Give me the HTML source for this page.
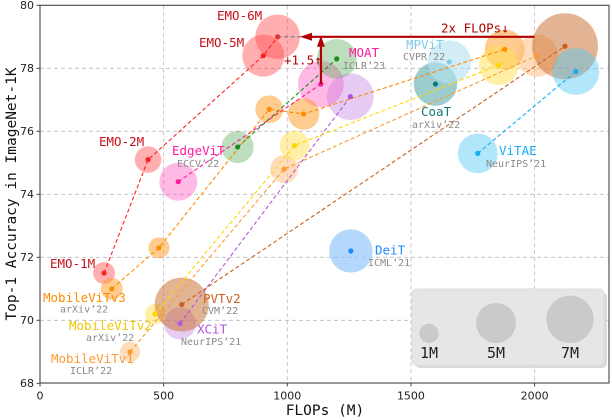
<!DOCTYPE html>
<html><head><meta charset="utf-8"><style>
html,body{margin:0;padding:0;background:#fff;}
svg{display:block;}
text{font-family:"DejaVu Sans Mono","Liberation Mono",monospace;}
</style></head><body>
<svg id="chart" width="612" height="420" viewBox="0 0 612 420">
<g id="grid"></g>
<g id="bubbles"></g>
<g id="lines"></g>
<g id="points"></g>
<g id="labels"></g>
<g id="axes"></g>
</svg>
<script>
const xTicks=[0,500,1000,1500,2000];
const yTicks=[68,70,72,74,76,78,80];
const seriesNames=["EMO","EdgeViT","Green","XCiT","MobileViTv3","MobileViTv1","MobileViTv2","PVTv2","CoaT","MPViT","ViTAE","DeiT"];
const emoFlops=[259,437,903,961];       const emoAcc=[71.5,75.1,78.4,79.0];  const emoParams=[1.3,1.9,4.8,5.4];
const edgeFlops=[559,1136];             const edgeAcc=[74.4,77.5];           const edgeParams=[3.9,5.7];
const greenFlops=[799,1200];            const greenAcc=[75.5,78.3];          const greenParams=[2.8,4.3];
const xcitFlops=[566,1255];             const xcitAcc=[69.9,77.1];           const xcitParams=[2.8,5.9];
const v3Flops=[290,481,927,1066,1879];  const v3Acc=[71.0,72.3,76.7,76.55,78.6]; const v3Params=[1.3,1.2,2.1,2.7,4.3];
const v1Flops=[364,987,2010];           const v1Acc=[69.0,74.8,78.4];        const v1Params=[1.1,2.1,4.8];
const v2Flops=[465,1030,1855];          const v2Acc=[70.2,75.55,78.1];       const v2Params=[1.1,2.4,4.3];
const pvtFlops=[573,2123];              const pvtAcc=[70.5,78.7];            const pvtParams=[7.9,11.8];
const coatFlops=[1599];                 const coatAcc=[77.5];                const coatParams=[5.1];
const mpvitFlops=[1655];                const mpvitAcc=[78.2];               const mpvitParams=[5.1];
const vitaeFlops=[1770,2167];           const vitaeAcc=[75.3,77.9];          const vitaeParams=[4.3,5.9];
const deitFlops=[1257];                 const deitAcc=[72.2];                const deitParams=[5.1];
const legendParams=[1,5,7];
const legendLabels=["1M","5M","7M"];

const NS="http://www.w3.org/2000/svg";
const X0=40,X1=609,Y0=5.3,Y1=383;
function sx(v){return X0+v*0.2473;}
function sy(v){return Y0+(80-v)*31.5;}
function rad(p){return 9.6*Math.sqrt(p);}
function mk(tag,attrs,parent){const e=document.createElementNS(NS,tag);for(const k in attrs)e.setAttribute(k,attrs[k]);parent.appendChild(e);return e;}
const G=id=>document.getElementById(id);

// grid
xTicks.slice(1).forEach(t=>{const l=mk('line',{x1:sx(t),x2:sx(t),y1:Y0,y2:Y1,stroke:'#bbb','stroke-dasharray':'4,3','stroke-width':0.8},G('grid'));

});
yTicks.slice(1,-1).forEach(t=>{const l=mk('line',{x1:X0,x2:X1,y1:sy(t),y2:sy(t),stroke:'#bbb','stroke-dasharray':'4,3','stroke-width':0.8},G('grid'));

});

const series=[
 {n:"emo",f:emoFlops,a:emoAcc,p:emoParams,line:"#ff2020",fill:"#ff4d4d",op:0.45},
 {n:"edgevit",f:edgeFlops,a:edgeAcc,p:edgeParams,line:"#ff1aa0",fill:"#ff4fbf",op:0.4},
 {n:"moat",f:greenFlops,a:greenAcc,p:greenParams,line:"#1f8a1f",fill:"#5aad5a",op:0.4},
 {n:"xcit",f:xcitFlops,a:xcitAcc,p:xcitParams,line:"#b355e0",fill:"#c27ee2",op:0.4},
 {n:"mobilevitv3",f:v3Flops,a:v3Acc,p:v3Params,line:"#ff8c00",fill:"#ff9a20",op:0.5},
 {n:"mobilevitv1",f:v1Flops,a:v1Acc,p:v1Params,line:"#ff9a30",fill:"#ffbb77",op:0.5},
 {n:"mobilevitv2",f:v2Flops,a:v2Acc,p:v2Params,line:"#ffd700",fill:"#ffe050",op:0.5},
 {n:"pvtv2",f:pvtFlops,a:pvtAcc,p:pvtParams,line:"#c8601e",fill:"#c86a2a",op:0.5},
 {n:"coat",f:coatFlops,a:coatAcc,p:coatParams,line:"#117a7a",fill:"#3a9a9a",op:0.5},
 {n:"mpvit",f:mpvitFlops,a:mpvitAcc,p:mpvitParams,line:"#7fcbe8",fill:"#b5e1f0",op:0.6},
 {n:"vitae",f:vitaeFlops,a:vitaeAcc,p:vitaeParams,line:"#12b0f0",fill:"#55c8f5",op:0.45},
 {n:"deit",f:deitFlops,a:deitAcc,p:deitParams,line:"#1e88ff",fill:"#8cc2fa",op:0.65}
];
series.forEach(s=>{
 s.f.forEach((f,i)=>{
  const c=mk('circle',{cx:sx(f),cy:sy(s.a[i]),r:rad(s.p[i]),fill:s.fill,'fill-opacity':s.op},G('bubbles'));
  
  
 });
});
series.forEach(s=>{
 if(s.f.length>1){
  const pl=mk('polyline',{points:s.f.map((f,i)=>sx(f)+','+sy(s.a[i])).join(' '),fill:'none',stroke:s.line,'stroke-width':1.1,'stroke-dasharray':'4,2.5'},G('lines'));
  
  
 }
 s.f.forEach((f,i)=>{
  const c=mk('circle',{cx:sx(f),cy:sy(s.a[i]),r:2.6,fill:s.line},G('points'));
  
  
 });
});

// annotation arrows
const L=G('labels');
const ay=sy(emoAcc[3]);
const gd=mk('line',{x1:sx(emoFlops[3]),x2:303,y1:ay,y2:ay,stroke:'#777','stroke-dasharray':'4,2.5','stroke-width':1.2},L);


const ha=mk('line',{x1:sx(2000),x2:310,y1:ay,y2:ay,stroke:'#b30000','stroke-width':2.2},L);


const hh=mk('polygon',{points:`300,${ay} 312,${ay-4} 312,${ay+4}`,fill:'#b30000'},L);


const vx=sx(edgeFlops[1]);
const va=mk('line',{x1:vx,x2:vx,y1:sy(edgeAcc[1]),y2:ay+8,stroke:'#b30000','stroke-width':2.2},L);


const vh=mk('polygon',{points:`${vx},${ay-1} ${vx-4},${ay+10} ${vx+4},${ay+10}`,fill:'#b30000'},L);



function txt(x,y,s,col,size,name,anchor){const t=mk('text',{x:x,y:y,fill:col,'font-size':size,'dominant-baseline':'central','text-anchor':anchor||'start'},L);t.textContent=s;return t;}
txt(284,60,"+1.5↑","#b30000",12.5,"accuracy-gain-label");
txt(441,28,"2x FLOPs↓","#b30000",12.5,"flops-reduction-label");
const R="#c8101a",GR="#8a8a8a";
txt(217,15.7,"EMO-6M",R,12.5,"emo-6m-label");
txt(199,42.7,"EMO-5M",R,12.5,"emo-5m-label");
txt(99,141.7,"EMO-2M",R,12.5,"emo-2m-label");
txt(50,263.3,"EMO-1M",R,12.5,"emo-1m-label");
txt(172,150.7,"EdgeViT","#ff1aa0",12.5,"edgevit-label");
txt(177,164.3,"ECCV’22",GR,10,"edgevit-venue");
txt(349,52.3,"MOAT","#ff1aa0",12.5,"moat-label");
txt(343,66.3,"ICLR’23",GR,10,"moat-venue");
txt(406,44.3,"MPViT","#7fcbe8",12.5,"mpvit-label");
txt(403,57.3,"CVPR’22",GR,10,"mpvit-venue");
txt(421,111.7,"CoaT","#117a7a",12.5,"coat-label");
txt(412,125.3,"arXiv’22",GR,10,"coat-venue");
txt(499,150.7,"ViTAE","#12b0f0",12.5,"vitae-label");
txt(486,164.3,"NeurIPS’21",GR,10,"vitae-venue");
txt(375,250,"DeiT","#1e88ff",12.5,"deit-label");
txt(368,263.3,"ICML’21",GR,10,"deit-venue");
txt(43,297.3,"MobileViTv3","#ff8c00",12.5,"mobilevitv3-label");
txt(60,310,"arXiv’22",GR,10,"mobilevitv3-venue");
txt(69,325.3,"MobileViTv2","#f0c800",12.5,"mobilevitv2-label");
txt(86,338.3,"arXiv’22",GR,10,"mobilevitv2-venue");
txt(51,358.3,"MobileViTv1","#ff9a30",12.5,"mobilevitv1-label");
txt(70,371.7,"ICLR’22",GR,10,"mobilevitv1-venue");
txt(203,298.7,"PVTv2","#c8601e",12.5,"pvtv2-label");
txt(202,311.7,"CVM’22",GR,10,"pvtv2-venue");
txt(197,329,"XCiT","#b355e0",12.5,"xcit-label");
txt(181,342.3,"NeurIPS’21",GR,10,"xcit-venue");

// legend
const A=G('axes');
const lg=mk('g',{},A);


mk('rect',{x:415,y:292,width:192,height:76,rx:5,fill:'#999','fill-opacity':0.35},lg);
mk('rect',{x:412,y:289,width:192,height:76,rx:5,fill:'#e6e6e6',stroke:'#ddd'},lg);
const lx=[429,496,570];
legendParams.forEach((p,i)=>{
 const r=rad(p)*(i==0?1.0:0.93);
 const c=mk('circle',{cx:lx[i],cy:343-r,r:r,fill:'#cbc9c9'},lg);
 
 
 const t=mk('text',{x:lx[i],y:353,'font-size':15,'text-anchor':'middle','dominant-baseline':'central',fill:'#222'},lg);
 t.textContent=legendLabels[i];
 
 
});

// axes frame & ticks
const fr=mk('rect',{x:X0,y:Y0,width:X1-X0,height:Y1-Y0,fill:'none',stroke:'#444','stroke-width':1.1},A);


xTicks.forEach(t=>{
 mk('line',{x1:sx(t),x2:sx(t),y1:Y1,y2:Y1+3.5,stroke:'#444'},A);
 const tx=mk('text',{x:sx(t),y:396,'font-size':11,'text-anchor':'middle','dominant-baseline':'central',fill:'#222',style:'font-family:"DejaVu Sans","Liberation Sans",sans-serif'},A);
 tx.textContent=t;
 
 
});
yTicks.forEach(t=>{
 mk('line',{x1:X0-3.5,x2:X0,y1:sy(t),y2:sy(t),stroke:'#444'},A);
 const tx=mk('text',{x:34,y:sy(t),'font-size':11,'text-anchor':'end','dominant-baseline':'central',fill:'#222',style:'font-family:"DejaVu Sans","Liberation Sans",sans-serif'},A);
 tx.textContent=t;
 
 
});
const xt=mk('text',{x:325,y:411,'font-size':14.5,'text-anchor':'middle','dominant-baseline':'central',fill:'#111'},A);
xt.textContent="FLOPs (M)";


const yt=mk('text',{x:12,y:194,'font-size':14.5,'text-anchor':'middle','dominant-baseline':'central',fill:'#111',transform:'rotate(-90 12 194)'},A);
yt.textContent="Top-1 Accuracy in ImageNet-1K";


</script>
</body></html>
